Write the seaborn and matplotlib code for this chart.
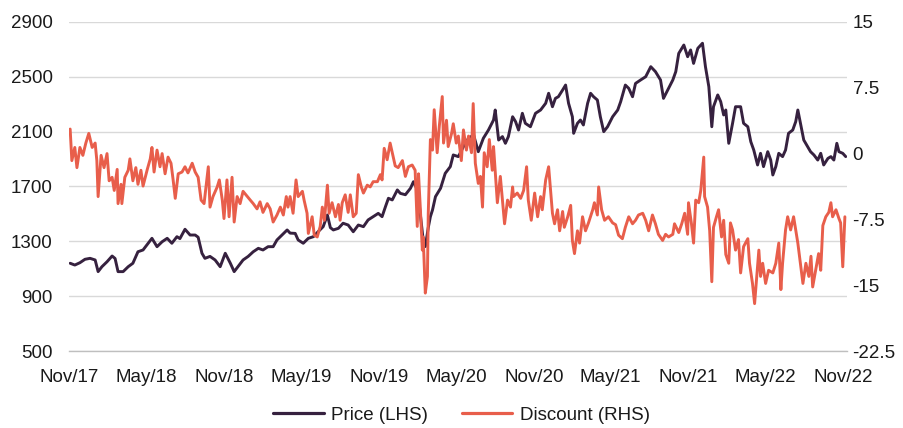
import numpy as np
import pandas as pd
import matplotlib
matplotlib.use("Agg")
import matplotlib.pyplot as plt
from matplotlib.lines import Line2D
import seaborn as sns

# ---------------- data ----------------
start_date = "2017-11-01"

price_days = [2, 13, 25, 37, 49, 61, 68, 77, 89, 101, 108, 115, 127, 139, 150, 162, 174, 186, 195, 207,
              219, 231, 242, 254, 261, 273, 285, 297, 304, 313, 320, 332, 344, 356, 368, 380, 389, 398, 410, 422,
              434, 446, 457, 469, 481, 490, 502, 514, 521, 533, 540, 552, 564, 576, 587, 599, 609, 616, 623, 635,
              646, 658, 670, 682, 694, 705, 717, 729, 738, 746, 753, 762, 774, 781, 793, 805, 812, 819, 826, 831,
              835, 840, 847, 852, 857, 864, 876, 887, 899, 906, 918, 930, 942, 954, 965, 977, 989, 1001, 1005, 1013,
              1022, 1029, 1036, 1046, 1053, 1060, 1069, 1076, 1088, 1100, 1112, 1124, 1131, 1140, 1147, 1154, 1164, 1171, 1178, 1187,
              1190, 1199, 1206, 1213, 1223, 1230, 1237, 1246, 1253, 1261, 1270, 1282, 1294, 1301, 1312, 1320, 1329, 1336, 1348, 1360,
              1372, 1383, 1395, 1402, 1412, 1424, 1431, 1438, 1450, 1459, 1466, 1473, 1483, 1494, 1501, 1509, 1516, 1520, 1530, 1537,
              1544, 1549, 1556, 1565, 1572, 1584, 1591, 1601, 1608, 1615, 1624, 1631, 1638, 1648, 1655, 1660, 1667, 1674, 1683, 1690,
              1697, 1707, 1714, 1719, 1726, 1733, 1742, 1749, 1757, 1766, 1773, 1780, 1790, 1797, 1804, 1811, 1816, 1825, 1832]
price_vals = [1140, 1127, 1144, 1169, 1176, 1164, 1079, 1115, 1151, 1193, 1175, 1079, 1079, 1115, 1140, 1224, 1237, 1286, 1322, 1261,
              1297, 1322, 1286, 1334, 1320, 1388, 1346, 1346, 1330, 1213, 1176, 1190, 1164, 1115, 1213, 1140, 1079, 1115, 1164, 1190,
              1224, 1249, 1237, 1261, 1261, 1310, 1346, 1383, 1360, 1358, 1310, 1286, 1322, 1334, 1370, 1407, 1492, 1400, 1383, 1395,
              1432, 1419, 1370, 1419, 1407, 1456, 1480, 1504, 1480, 1553, 1614, 1602, 1675, 1650, 1640, 1687, 1735, 1690, 1560, 1420,
              1310, 1262, 1400, 1480, 1529, 1626, 1687, 1796, 1845, 1930, 1918, 1991, 2052, 2076, 1954, 2052, 2112, 2185, 2258, 2039,
              2064, 2015, 2064, 2209, 2173, 2112, 2234, 2161, 2136, 2234, 2258, 2307, 2380, 2282, 2343, 2355, 2404, 2440, 2307, 2209,
              2088, 2161, 2185, 2149, 2307, 2380, 2355, 2331, 2209, 2100, 2136, 2209, 2258, 2319, 2440, 2416, 2355, 2452, 2477, 2501,
              2574, 2538, 2477, 2343, 2404, 2477, 2538, 2671, 2732, 2647, 2696, 2598, 2708, 2745, 2574, 2428, 2136, 2282, 2368, 2319,
              2222, 2258, 2015, 2161, 2282, 2282, 2161, 2136, 2027, 1966, 1857, 1942, 1845, 1954, 1893, 1784, 1845, 1942, 1918, 1966,
              2088, 2112, 2173, 2258, 2149, 2039, 1991, 1954, 1930, 1893, 1942, 1857, 1905, 1918, 1893, 2015, 1954, 1942, 1918]

disc_days = [2, 6, 13, 18, 25, 32, 39, 46, 54, 61, 65, 68, 75, 82, 89, 94, 101, 106, 113, 115,
             122, 124, 131, 139, 143, 150, 157, 162, 169, 174, 184, 191, 195, 200, 207, 214, 219, 226, 233, 240,
             245, 250, 257, 266, 273, 280, 290, 297, 304, 311, 318, 328, 332, 339, 349, 354, 361, 365, 372, 377,
             384, 389, 396, 403, 410, 420, 427, 434, 443, 450, 457, 467, 474, 481, 490, 498, 505, 512, 516, 521,
             528, 535, 540, 550, 554, 561, 564, 573, 578, 585, 592, 597, 602, 609, 613, 620, 628, 635, 639, 644,
             651, 658, 663, 670, 677, 682, 689, 694, 703, 710, 717, 727, 734, 738, 743, 750, 757, 762, 769, 776,
             786, 793, 800, 809, 816, 821, 824, 828, 833, 835, 840, 845, 847, 852, 857, 861, 868, 873, 880, 883,
             890, 894, 902, 906, 913, 918, 925, 930, 937, 942, 949, 953, 958, 965, 970, 975, 979, 986, 991, 998,
             1001, 1010, 1017, 1022, 1027, 1034, 1041, 1046, 1048, 1057, 1065, 1072, 1079, 1083, 1090, 1098, 1105, 1112, 1116, 1124,
             1131, 1140, 1145, 1152, 1157, 1164, 1168, 1176, 1183, 1187, 1192, 1199, 1204, 1211, 1218, 1225, 1235, 1239, 1246, 1249,
             1256, 1263, 1272, 1282, 1289, 1296, 1305, 1312, 1320, 1329, 1336, 1343, 1353, 1360, 1367, 1376, 1383, 1390, 1400, 1407,
             1414, 1424, 1428, 1438, 1445, 1452, 1459, 1461, 1468, 1473, 1478, 1485, 1490, 1497, 1499, 1506, 1511, 1516, 1520, 1527,
             1532, 1539, 1544, 1549, 1556, 1560, 1565, 1572, 1579, 1584, 1591, 1601, 1605, 1612, 1617, 1622, 1627, 1631, 1636, 1643,
             1650, 1660, 1667, 1674, 1679, 1683, 1690, 1695, 1702, 1709, 1719, 1724, 1731, 1738, 1745, 1750, 1754, 1761, 1768, 1773,
             1778, 1785, 1792, 1797, 1801, 1809, 1816, 1820, 1825, 1830]
disc_vals = [2.8, -0.8, 0.7, -1.6, 0.7, -0.2, 1.2, 2.3, 0.7, 1.2, -0.8, -4.9, -0.2, -1.6, 0.0, -3.1, -2.7, -4.2, -1.8, -5.7,
             -3.5, -5.7, -2.7, -1.9, -0.6, -3.1, -1.6, -3.5, -1.9, -3.7, -1.8, -0.6, 0.7, -2.1, 0.4, -1.5, 0.0, -2.3, -0.4, -1.1,
             -3.0, -5.1, -2.3, -2.1, -1.5, -2.2, -1.1, -2.1, -2.7, -5.3, -5.7, -1.5, -6.1, -4.9, -3.8, -3.0, -5.3, -7.4, -3.0, -7.2,
             -2.7, -7.8, -4.9, -5.7, -4.3, -4.9, -5.3, -5.7, -6.3, -5.5, -6.7, -5.7, -6.3, -7.8, -7.0, -6.1, -7.0, -4.9, -6.1, -4.9,
             -6.8, -3.0, -4.9, -4.3, -5.3, -6.8, -9.1, -7.2, -9.3, -9.5, -8.3, -6.1, -7.6, -3.6, -6.8, -5.6, -7.2, -5.8, -7.6, -5.6,
             -4.7, -6.7, -4.7, -7.2, -6.8, -2.4, -3.8, -4.5, -3.6, -3.8, -3.2, -3.2, -2.4, -3.0, 0.6, -0.7, 1.2, 0.1, -1.4, -1.6,
             -0.8, -2.6, -1.5, -1.3, -1.9, -8.3, -2.3, -6.0, -11.0, -9.5, -15.9, -14.0, -6.8, 1.6, 0.4, 5.0, 0.1, 3.1, 6.5, 1.2,
             3.8, 0.8, 2.3, 3.4, 1.2, 2.0, -0.8, 2.7, 0.4, 2.0, 0.1, 5.7, -1.1, -3.4, -2.6, -6.1, 0.1, -1.5, 1.6, -1.9,
             0.8, -5.6, -2.6, -5.3, -8.0, -5.3, -6.1, -3.8, -4.9, -4.5, -5.1, -4.2, -1.5, -5.3, -7.6, -4.5, -7.2, -4.9, -6.4, -3.0,
             -1.5, -6.8, -8.0, -6.4, -8.8, -6.6, -8.4, -7.2, -5.9, -9.9, -11.4, -8.8, -10.2, -7.2, -8.8, -7.9, -6.4, -5.6, -7.0, -3.8,
             -6.4, -7.6, -7.2, -7.9, -8.1, -9.3, -9.7, -8.4, -7.2, -8.0, -7.6, -7.0, -6.8, -7.6, -8.8, -7.0, -8.0, -9.2, -9.9, -9.2,
             -9.5, -9.2, -8.0, -9.0, -8.0, -6.8, -9.2, -5.6, -8.0, -10.2, -5.3, -5.6, -4.2, -0.4, -4.9, -6.1, -8.8, -14.6, -8.4, -7.2,
             -6.4, -9.5, -7.6, -11.5, -12.5, -7.9, -8.7, -11.0, -9.8, -13.6, -10.6, -9.7, -12.5, -14.8, -17.1, -14.0, -11.0, -14.0, -12.5, -14.8,
             -13.3, -13.6, -12.5, -10.2, -15.5, -12.5, -8.7, -7.2, -8.7, -7.2, -10.2, -12.1, -14.8, -12.5, -14.0, -11.7, -15.2, -13.3, -11.4, -13.3,
             -8.2, -7.2, -6.7, -5.6, -7.2, -6.4, -7.4, -7.9, -12.9, -7.2]

price_label = "Price (LHS)"
disc_label = "Discount (RHS)"
left_ticks = [500, 900, 1300, 1700, 2100, 2500, 2900]
right_ticks = [-22.5, -15, -7.5, 0, 7.5, 15]
right_tick_labels = ["-22.5", "-15", "-7.5", "0", "7.5", "15"]
x_tick_dates = ["2017-11-01", "2018-05-01", "2018-11-01", "2019-05-01", "2019-11-01", "2020-05-01",
                "2020-11-01", "2021-05-01", "2021-11-01", "2022-05-01", "2022-11-01"]

# ---------------- styling ----------------
PRICE_C = "#36213f"
DISC_C = "#e85e4b"
GRID_C = "#d9d9d9"
TEXT_C = "#1a1a1a"
FS = 13.5

sns.set_theme(style="white")
plt.rcParams["font.family"] = ["Liberation Sans", "DejaVu Sans"]

t0 = pd.Timestamp(start_date)
price_df = pd.DataFrame({"date": t0 + pd.to_timedelta(price_days, unit="D"), "value": price_vals})
disc_df = pd.DataFrame({"date": t0 + pd.to_timedelta(disc_days, unit="D"), "value": disc_vals})

fig = plt.figure(figsize=(9.04, 4.28), dpi=100)
L, R, T, B = 69.3, 847, 22, 351
ax = fig.add_axes([L / 904, 1 - B / 428, (R - L) / 904, (B - T) / 428])
ax2 = ax.twinx()

sns.lineplot(data=price_df, x="date", y="value", ax=ax, color=PRICE_C, linewidth=2.1,
             estimator=None, sort=False, legend=False)
sns.lineplot(data=disc_df, x="date", y="value", ax=ax2, color=DISC_C, linewidth=2.1,
             estimator=None, sort=False, legend=False)

ax.set_xlim(t0, t0 + pd.Timedelta(days=1835))
ax.set_ylim(500, 2900)
ax.set_yticks(left_ticks)
ax.set_yticklabels([str(v) for v in left_ticks])
ax2.set_ylim(-22.5, 15)
ax2.set_yticks(right_ticks)
ax2.set_yticklabels(right_tick_labels)

xt = pd.to_datetime(x_tick_dates)
ax.set_xticks(xt)
ax.set_xticklabels([d.strftime("%b/%y") for d in xt])

ax.grid(axis="y", color=GRID_C, linewidth=1.0)
ax.grid(axis="x", visible=False)
ax2.grid(False)
ax.set_axisbelow(True)
for a in (ax, ax2):
    for s in ("top", "left", "right", "bottom"):
        a.spines[s].set_visible(False)
    a.set_xlabel("")
    a.set_ylabel("")
ax.spines["bottom"].set_visible(True)
ax.spines["bottom"].set_color("#bfbfbf")
ax.spines["bottom"].set_linewidth(1.0)

ax.tick_params(axis="x", which="major", direction="out", length=5, width=1, color="#bfbfbf",
               pad=8, labelsize=FS, labelcolor=TEXT_C)
ax.tick_params(axis="y", length=0, pad=12, labelsize=FS, labelcolor=TEXT_C)
ax2.tick_params(axis="y", length=0, pad=4, labelsize=FS, labelcolor=TEXT_C)

handles = [Line2D([], [], color=PRICE_C, linewidth=2.3),
           Line2D([], [], color=DISC_C, linewidth=2.3)]
fig.legend(handles, [price_label, disc_label], loc="center", bbox_to_anchor=(0.5105, 1 - 415 / 428),
           ncol=2, frameon=False, fontsize=FS, handlelength=2.7, handletextpad=0.4,
           columnspacing=1.8, labelcolor=TEXT_C)

fig.savefig("out.png", dpi=100)
